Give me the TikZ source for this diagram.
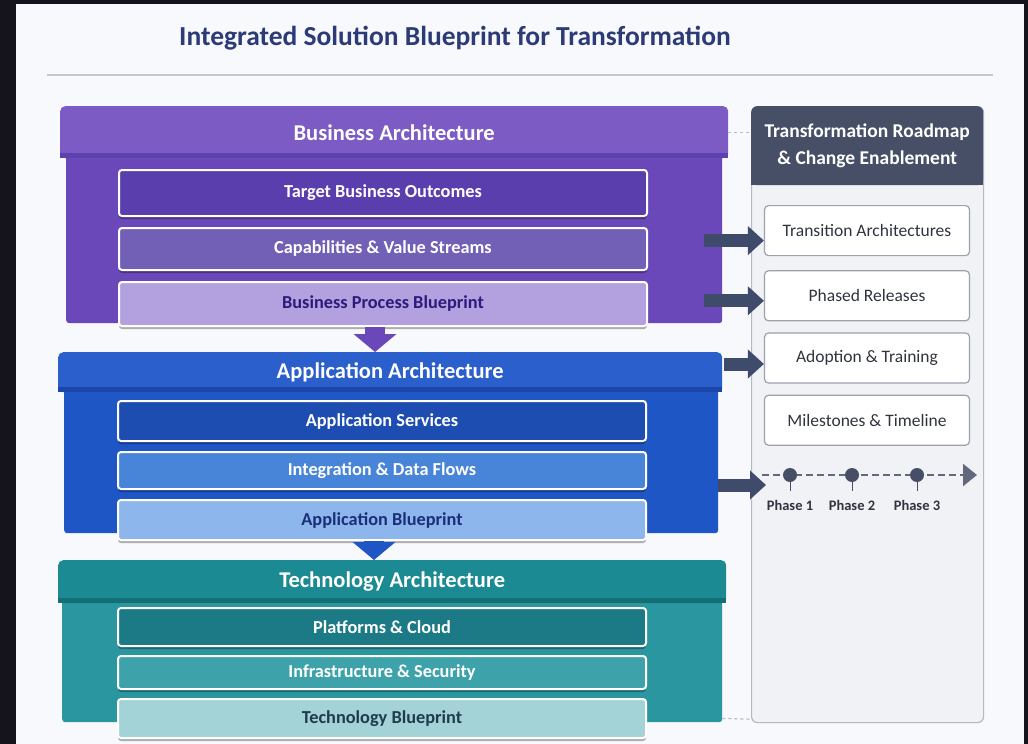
\documentclass[tikz,border=0pt]{standalone}
\usepackage{fontspec}
\setmainfont{Carlito}
\usetikzlibrary{positioning, arrows.meta, shadows, calc}

\definecolor{framebg}{HTML}{15141C}
\definecolor{pagebg}{HTML}{F8F9FC}
\definecolor{titleblue}{HTML}{2C3A78}
\definecolor{rulegrey}{HTML}{C4C8CE}
\definecolor{bizhead}{HTML}{7C5CC4}
\definecolor{bizedge}{HTML}{5E40AE}
\definecolor{bizbody}{HTML}{6A48BA}
\definecolor{bizone}{HTML}{5A3EAD}
\definecolor{biztwo}{HTML}{7260B6}
\definecolor{bizthree}{HTML}{B3A0DE}
\definecolor{biztext}{HTML}{2A1C7C}
\definecolor{apphead}{HTML}{2B5FCB}
\definecolor{appedge}{HTML}{1A46A8}
\definecolor{appbody}{HTML}{1F56C6}
\definecolor{appone}{HTML}{1E4DB2}
\definecolor{apptwo}{HTML}{4884D8}
\definecolor{appthree}{HTML}{8DB7EC}
\definecolor{apptext}{HTML}{1B2E78}
\definecolor{techhead}{HTML}{1C8A92}
\definecolor{techedge}{HTML}{136E76}
\definecolor{techbody}{HTML}{2A97A0}
\definecolor{techone}{HTML}{1C7A86}
\definecolor{techtwo}{HTML}{3EA2AA}
\definecolor{techthree}{HTML}{A4D3D7}
\definecolor{techtext}{HTML}{1E3C4E}
\definecolor{slate}{HTML}{464F66}
\definecolor{arrowslate}{HTML}{3F4B6B}
\definecolor{panelbg}{HTML}{F1F2F6}
\definecolor{panelline}{HTML}{B5B9C3}
\definecolor{itemline}{HTML}{9CA1AC}
\definecolor{itemtext}{HTML}{30343F}

\tikzset{
	archhead/.style={anchor=north west, inner sep=0pt, rounded corners=5pt, text=white, font=\bfseries\fontsize{22.5}{26}\selectfont},
	archbody/.style={anchor=north west, inner sep=0pt, rounded corners=3pt},
	layeritem/.style={draw=white, line width=2pt, rounded corners=3pt, minimum width=528pt, inner sep=0pt, text=white, font=\bfseries\fontsize{18.3}{20}\selectfont, drop shadow={shadow xshift=0pt, shadow yshift=-3pt, opacity=.3, fill=black}},
	roaditem/.style={draw=itemline, line width=1.2pt, fill=white, rounded corners=4pt, minimum width=205pt, minimum height=50pt, text=itemtext, font=\fontsize{17.5}{20}\selectfont},
	flowarrow/.style={draw=arrowslate, line width=13pt, -{Triangle[length=16pt, width=28pt]}},
	downarrow/.style={line width=20pt, -{Triangle[length=18pt, width=42pt]}},
	dashlink/.style={draw=panelline, dashed, line width=1.2pt},
	phasedot/.style={circle, fill=slate, minimum size=14pt, inner sep=0pt},
	phaselabel/.style={text=itemtext, font=\bfseries\fontsize{14.5}{16}\selectfont, inner sep=0pt},
}

\begin{document}
\begin{tikzpicture}[x=1pt, y=-1pt]
	\fill[framebg] (0,0) rectangle (1028,744);
	\fill[pagebg] (16,4) rectangle (1024,744);
	\useasboundingbox (0,0) rectangle (1028,744);

	\node[font=\bfseries\fontsize{27.5}{32}\selectfont, text=titleblue] (title) at (455,38) {Integrated Solution Blueprint for Transformation};
	\draw[rulegrey, line width=2pt] (47,75) -- (993,75);

	% business layer
	\node[archbody, fill=bizbody, minimum width=656pt, minimum height=170pt] (bizbody) at (66,153) {};
	\node[archhead, fill=bizhead, minimum width=668pt, minimum height=52pt] (bizhead) at (60,106) {Business Architecture};
	\fill[bizedge] ([yshift=5pt]bizhead.south west) rectangle (bizhead.south east);
	\node[layeritem, fill=bizone, minimum height=46pt, anchor=north] (bizgoal) at (383,169) {Target Business Outcomes};
	\node[layeritem, fill=biztwo, minimum height=42pt, below=10pt of bizgoal] (bizcap) {Capabilities \& Value Streams};
	\node[layeritem, fill=bizthree, minimum height=44pt, below=10pt of bizcap, text=biztext] (bizproc) {Business Process Blueprint};

	% application layer
	\node[archbody, fill=appbody, minimum width=654pt, minimum height=146pt] (appbody) at (64,387) {};
	\node[archhead, fill=apphead, minimum width=664pt, minimum height=40pt] (apphead) at (58,352) {Application Architecture};
	\fill[appedge] ([yshift=5pt]apphead.south west) rectangle (apphead.south east);
	\node[layeritem, fill=appone, minimum height=40pt, anchor=north] (appsvc) at (382,400) {Application Services};
	\node[layeritem, fill=apptwo, minimum height=37pt, below=9pt of appsvc] (appint) {Integration \& Data Flows};
	\node[layeritem, fill=appthree, minimum height=40pt, below=9pt of appint, text=apptext] (appbp) {Application Blueprint};

	% technology layer
	\node[archbody, fill=techbody, minimum width=660pt, minimum height=124pt] (techbody) at (62,598) {};
	\node[archhead, fill=techhead, minimum width=668pt, minimum height=43pt] (techhead) at (58,560) {Technology Architecture};
	\fill[techedge] ([yshift=5pt]techhead.south west) rectangle (techhead.south east);
	\node[layeritem, fill=techone, minimum height=38pt, anchor=north] (techplat) at (382,607) {Platforms \& Cloud};
	\node[layeritem, fill=techtwo, minimum height=33pt, below=8pt of techplat] (techinfra) {Infrastructure \& Security};
	\node[layeritem, fill=techthree, minimum height=39pt, below=8pt of techinfra, text=techtext] (techbp) {Technology Blueprint};

	\draw[downarrow, draw=bizbody] ([xshift=-8pt]bizproc.south) -- ([xshift=-8pt]bizproc.south |- apphead.north);
	\draw[downarrow, draw=appbody] ([xshift=-8pt]appbp.south) -- ([xshift=-8pt]appbp.south |- techhead.north);

	% roadmap panel
	\node[anchor=north west, draw=panelline, line width=1.2pt, fill=panelbg, rounded corners=6pt, minimum width=232pt, minimum height=616pt] (roadbody) at (751,106) {};
	\node[anchor=north west, fill=slate, rounded corners=6pt, minimum width=232pt, minimum height=79pt, inner sep=0pt, text=white, align=center, font=\bfseries\fontsize{19.5}{27}\selectfont] (roadhead) at (751,106) {Transformation Roadmap\\\& Change Enablement};
	\fill[slate] ([yshift=8pt]roadhead.south west) rectangle (roadhead.south east);

	\node[roaditem, anchor=north] (trans) at (867,205) {Transition Architectures};
	\node[roaditem, below=14pt of trans] (phased) {Phased Releases};
	\node[roaditem, below=11pt of phased] (adopt) {Adoption \& Training};
	\node[roaditem, below=11pt of adopt] (miles) {Milestones \& Timeline};

	% timeline
	\coordinate (tlstart) at (762,475);
	\coordinate (tlend) at (977,475);
	\draw[slate!85, line width=2.5pt, dash pattern=on 7pt off 4pt, -{Triangle[length=14pt, width=22pt]}] (tlstart) -- (tlend);
	\foreach \x/\n in {790/1, 852/2, 917/3} {
		\node[phasedot] (dot\n) at (\x,475) {};
		\draw[slate, line width=1pt] (dot\n.south) -- ++(0,9);
		\node[phaselabel, below=18pt of dot\n] (phase\n) {Phase \n};
	}

	\draw[flowarrow] ($(trans.west)+(-60,10)$) -- ($(trans.west)+(0,10)$);
	\draw[flowarrow] ($(phased.west)+(-60,5)$) -- ($(phased.west)+(0,5)$);
	\draw[flowarrow] ($(adopt.west)+(-40,6)$) -- ($(adopt.west)+(0,6)$);
	\draw[flowarrow] ($(tlstart)+(-44,10)$) -- ($(tlstart)+(4,10)$);

	\draw[dashlink] (bizhead.east) -- (bizhead.east -| roadbody.west);
	\draw[dashlink] ($(techbody.south east)+(0,-4)$) -- ($(roadbody.south west)+(0,-4)$);
\end{tikzpicture}
\end{document}
